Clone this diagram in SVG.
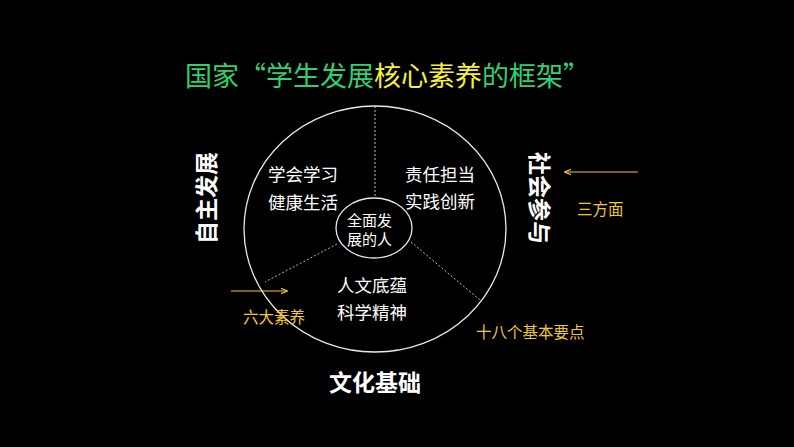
<svg xmlns="http://www.w3.org/2000/svg" width="794" height="447" viewBox="0 0 794 447">
<defs>
<style>
text{font-family:"Noto Sans CJK SC","Liberation Sans",sans-serif}
.w{fill:#ffffff;font-size:17.5px}
.c{fill:#ffffff;font-size:15px}
.b{fill:#ffffff;font-size:23px;font-weight:bold}
.y{fill:#f2c830;font-size:15.5px}
.dash{stroke:#bbbbbb;stroke-width:1;stroke-dasharray:2 2;fill:none}
.arr{stroke:#f2c830;stroke-width:1.2;fill:none}
</style>
<marker id="ah" viewBox="0 0 10 10" refX="9" refY="5" markerWidth="7" markerHeight="7" orient="auto-start-reverse" markerUnits="userSpaceOnUse">
<path d="M0,1 L10,5 L0,9" fill="none" stroke="#f2c830" stroke-width="1.5"/>
</marker>
</defs>
<rect width="794" height="447" fill="#000000"/>
<g id="title">
<text x="185" y="86" font-size="27" fill="#2fd170">国家“学生发展<tspan fill="#f6f03a">核心素养</tspan>的框架”</text>
</g>
<g id="connectors">
<line class="dash" x1="375" y1="106" x2="375" y2="198"/>
<line class="dash" x1="337" y1="244" x2="265" y2="282"/>
<line class="dash" x1="411" y1="242" x2="480" y2="300"/>
<line class="arr" x1="638" y1="172" x2="565" y2="172" marker-end="url(#ah)"/>
<line class="arr" x1="231" y1="291" x2="287" y2="291" marker-end="url(#ah)"/>
</g>
<g id="outer">
<ellipse cx="375" cy="229" rx="131" ry="123" fill="none" stroke="#e8e8e8" stroke-width="1.3"/>
</g>
<g id="center">
<ellipse cx="374" cy="228" rx="38" ry="30" fill="none" stroke="#e8e8e8" stroke-width="1.3"/>
<text class="c" x="347" y="226">全面发</text>
<text class="c" x="347" y="245">展的人</text>
</g>
<g id="sector-left">
<text class="w" x="268" y="181">学会学习</text>
<text class="w" x="268" y="209">健康生活</text>
</g>
<g id="sector-right">
<text class="w" x="405" y="181">责任担当</text>
<text class="w" x="405" y="208">实践创新</text>
</g>
<g id="sector-bottom">
<text class="w" x="337" y="292">人文底蕴</text>
<text class="w" x="337" y="319">科学精神</text>
</g>
<g id="label-left">
<text class="b" transform="translate(215,198) rotate(-90)" text-anchor="middle">自主发展</text>
</g>
<g id="label-right">
<text class="b" transform="translate(531,198) rotate(90)" text-anchor="middle">社会参与</text>
</g>
<g id="label-bottom">
<text class="b" x="375" y="391" text-anchor="middle">文化基础</text>
</g>
<g id="note-three">
<text class="y" x="577" y="215">三方面</text>
</g>
<g id="note-six">
<text class="y" x="243" y="323">六大素养</text>
</g>
<g id="note-eighteen">
<text class="y" x="476" y="338">十八个基本要点</text>
</g>
</svg>
